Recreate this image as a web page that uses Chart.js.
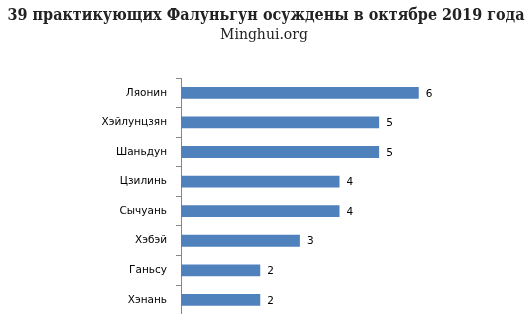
<!DOCTYPE html>
<html>
<head>
<meta charset="utf-8">
<script src="https://cdn.jsdelivr.net/npm/chart.js@4/dist/chart.umd.min.js"></script>
<style>
  html, body { margin: 0; padding: 0; background: #fff; overflow: hidden; }
  #wrap { width: 529px; height: 330px; }
</style>
</head>
<body>
<div id="wrap"><canvas id="c" width="529" height="330"></canvas></div>
<script>
const regions = ['Ляонин', 'Хэйлунцзян', 'Шаньдун', 'Цзилинь', 'Сычуань', 'Хэбэй', 'Ганьсу', 'Хэнань'];
const counts = [6, 5, 5, 4, 4, 3, 2, 2];
const titleText = '39 практикующих Фалуньгун осуждены в октябре 2019 года';
const subtitleText = 'Minghui.org';

// title + subtitle, drawn by hand so the heading is not squeezed into the plot width
const headings = {
  id: 'headings',
  afterDraw(chart) {
    const ctx = chart.ctx;
    ctx.save();
    ctx.fillStyle = '#222';
    ctx.textAlign = 'center';
    ctx.textBaseline = 'alphabetic';
    ctx.font = 'bold 17px "DejaVu Serif"';
    ctx.fillText(titleText, 266, 19.5, 517);
    ctx.font = '14px "DejaVu Serif"';
    ctx.fillText(subtitleText, 264, 38.5);
    ctx.restore();
  }
};

// draws the number just past the end of each bar
const valueLabels = {
  id: 'valueLabels',
  afterDatasetsDraw(chart) {
    const ctx = chart.ctx;
    const meta = chart.getDatasetMeta(0);
    ctx.save();
    ctx.font = '10.5px "DejaVu Sans"';
    ctx.fillStyle = '#000';
    ctx.textAlign = 'left';
    ctx.textBaseline = 'middle';
    meta.data.forEach((bar, i) => {
      ctx.fillText(String(counts[i]), bar.x + 7, bar.y + 1);
    });
    ctx.restore();
  }
};

new Chart(document.getElementById('c'), {
  type: 'bar',
  data: {
    labels: regions,
    datasets: [{
      data: counts,
      backgroundColor: '#4F81BD',
      barPercentage: 0.8,
      categoryPercentage: 0.5
    }]
  },
  options: {
    indexAxis: 'y',
    responsive: false,
    animation: false,
    layout: { padding: { left: 31, right: 31, top: 78, bottom: 13 } },
    plugins: {
      legend: { display: false },
      tooltip: { enabled: false }
    },
    scales: {
      x: { display: false, min: 0, max: 8 },
      y: {
        afterFit: s => { s.width = 150; },
        border: { display: true, color: '#868686' },
        grid: { drawOnChartArea: false, tickLength: 5, color: '#868686', offset: true },
        ticks: { color: '#000', padding: 9, font: { family: '"DejaVu Sans"', size: 10.5 } }
      }
    }
  },
  plugins: [valueLabels, headings]
});
</script>
</body>
</html>
